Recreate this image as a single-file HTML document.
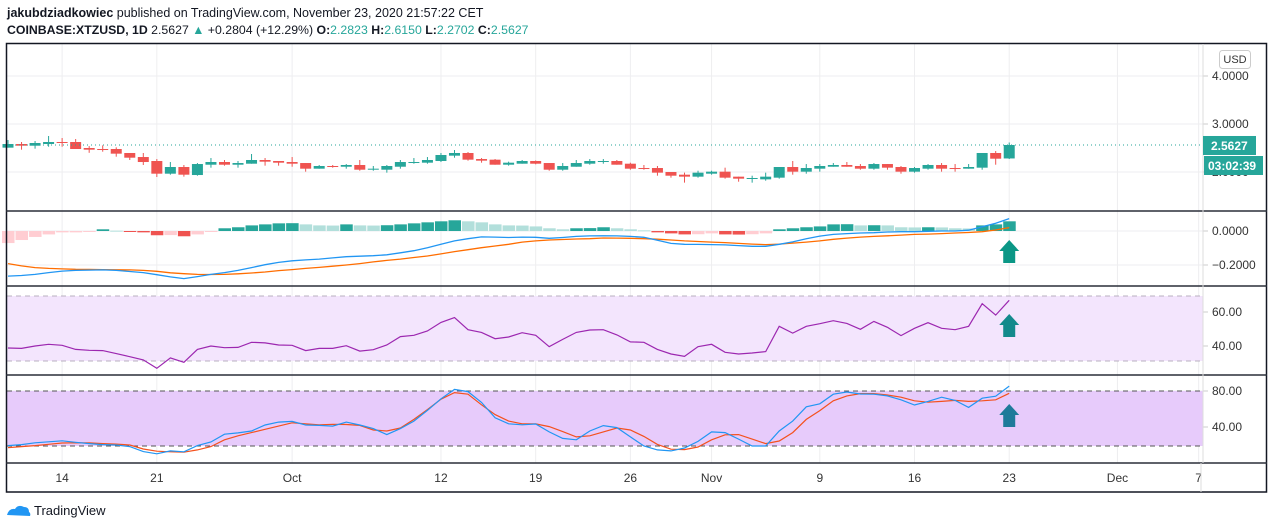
<!DOCTYPE html>
<html><head><meta charset="utf-8">
<style>
body{margin:0;background:#fff;width:1274px;height:529px;overflow:hidden;font-family:"Liberation Sans",sans-serif;}
svg{display:block}
text{font-family:"Liberation Sans",sans-serif;}
</style></head>
<body>
<svg id="c" width="1274" height="529" viewBox="0 0 1274 529">
  <text x="7" y="17" font-size="12.5" fill="#131722"><tspan font-weight="bold">jakubdziadkowiec</tspan> published on TradingView.com, November 23, 2020 21:57:22 CET</text>
  <text x="7" y="34" font-size="12.3" fill="#131722"><tspan font-weight="bold">COINBASE:XTZUSD, 1D</tspan> 2.5627 <tspan fill="#26a69a">▲</tspan> +0.2804 (+12.29%) <tspan font-weight="bold">O:</tspan><tspan fill="#26a69a">2.2823</tspan> <tspan font-weight="bold">H:</tspan><tspan fill="#26a69a">2.6150</tspan> <tspan font-weight="bold">L:</tspan><tspan fill="#26a69a">2.2702</tspan> <tspan font-weight="bold">C:</tspan><tspan fill="#26a69a">2.5627</tspan></text>
  <g id="grid"></g>
  <rect x="7" y="296" width="1196" height="65" fill="#f3e5fd"/>
  <rect x="7" y="391" width="1196" height="55" fill="#e7cbfb"/>
  <g id="marks"></g>
  <g id="frame"></g>
  <g>
    <path d="M7 515 q2-7 8-6 q3-5 9-2 q5 0 5 5 q2 1 1 4 z" fill="#2196f3"/>
    <text x="34" y="515" font-size="13" fill="#131722">TradingView</text>
  </g>
</svg>
<script>
const opens=[2.507,2.583,2.548,2.583,2.625,2.625,2.50,2.479,2.479,2.396,2.312,2.229,1.965,2.104,1.937,2.152,2.208,2.152,2.173,2.25,2.229,2.208,2.187,2.069,2.125,2.11,2.146,2.048,2.048,2.11,2.194,2.194,2.229,2.34,2.396,2.27,2.257,2.152,2.173,2.229,2.187,2.048,2.11,2.173,2.215,2.229,2.173,2.083,2.083,2.0,1.944,1.903,1.965,2.007,1.903,1.861,1.847,1.882,2.104,2.007,2.069,2.11,2.146,2.125,2.069,2.166,2.104,2.007,2.069,2.146,2.083,2.069,2.09,2.396,2.2823];
const highs=[2.666,2.625,2.645,2.75,2.708,2.687,2.54,2.555,2.514,2.396,2.396,2.27,2.208,2.146,2.187,2.291,2.25,2.229,2.375,2.291,2.229,2.312,2.187,2.146,2.146,2.166,2.25,2.125,2.146,2.25,2.291,2.312,2.396,2.458,2.416,2.291,2.27,2.215,2.25,2.24,2.187,2.187,2.25,2.27,2.27,2.25,2.194,2.146,2.125,2.0,1.986,2.027,2.027,2.09,1.903,1.923,1.986,2.104,2.229,2.166,2.166,2.187,2.208,2.166,2.187,2.166,2.125,2.104,2.166,2.187,2.166,2.166,2.396,2.437,2.615];
const lows=[2.507,2.465,2.486,2.527,2.527,2.479,2.40,2.423,2.319,2.25,2.146,1.896,1.944,1.903,1.923,2.09,2.132,2.09,2.173,2.132,2.132,2.11,2.007,2.069,2.09,2.069,2.027,2.027,1.986,2.069,2.173,2.173,2.208,2.298,2.236,2.194,2.152,2.132,2.173,2.16,2.027,2.027,2.11,2.152,2.173,2.152,2.048,2.048,1.923,1.882,1.778,1.882,1.944,1.861,1.798,1.778,1.819,1.861,1.944,1.965,2.007,2.11,2.11,2.048,2.048,2.048,1.965,1.986,2.048,2.007,2.007,2.069,2.048,2.152,2.2702];
const closes=[2.583,2.548,2.604,2.625,2.611,2.479,2.465,2.458,2.382,2.298,2.208,1.965,2.104,1.944,2.166,2.208,2.152,2.187,2.25,2.215,2.194,2.173,2.069,2.125,2.104,2.146,2.048,2.069,2.125,2.208,2.208,2.25,2.354,2.396,2.257,2.236,2.152,2.194,2.229,2.173,2.048,2.125,2.187,2.229,2.229,2.152,2.069,2.069,1.986,1.923,1.903,1.986,2.007,1.882,1.861,1.875,1.903,2.104,2.007,2.083,2.125,2.146,2.11,2.069,2.166,2.09,2.007,2.083,2.146,2.069,2.069,2.104,2.396,2.277,2.5627];
const macdHist=[-0.071,-0.053,-0.035,-0.020,-0.008,-0.008,-0.002,0.010,0.002,-0.002,-0.008,-0.025,-0.024,-0.031,-0.020,-0.002,0.016,0.022,0.033,0.039,0.045,0.046,0.039,0.033,0.032,0.039,0.033,0.032,0.034,0.039,0.045,0.051,0.057,0.063,0.057,0.051,0.039,0.033,0.032,0.027,0.016,0.010,0.016,0.017,0.022,0.016,0.010,0.004,-0.008,-0.014,-0.020,-0.019,-0.014,-0.020,-0.021,-0.019,-0.014,0.010,0.016,0.022,0.027,0.039,0.040,0.033,0.034,0.033,0.022,0.021,0.022,0.021,0.016,0.015,0.033,0.039,0.057];
const macdLine=[-0.265,-0.262,-0.255,-0.245,-0.236,-0.232,-0.230,-0.229,-0.232,-0.238,-0.245,-0.257,-0.270,-0.280,-0.268,-0.255,-0.245,-0.232,-0.215,-0.198,-0.185,-0.175,-0.170,-0.165,-0.158,-0.151,-0.148,-0.145,-0.140,-0.128,-0.116,-0.098,-0.078,-0.058,-0.045,-0.035,-0.036,-0.038,-0.036,-0.037,-0.043,-0.038,-0.032,-0.029,-0.028,-0.029,-0.032,-0.037,-0.055,-0.073,-0.078,-0.079,-0.080,-0.082,-0.086,-0.090,-0.090,-0.078,-0.064,-0.045,-0.030,-0.020,-0.015,-0.012,-0.010,-0.006,-0.004,-0.004,-0.002,0.0,0.0,0.005,0.025,0.045,0.073];
const macdSignal=[-0.192,-0.205,-0.215,-0.220,-0.223,-0.225,-0.226,-0.227,-0.228,-0.229,-0.232,-0.237,-0.246,-0.251,-0.255,-0.256,-0.255,-0.252,-0.247,-0.241,-0.233,-0.227,-0.220,-0.214,-0.207,-0.200,-0.192,-0.182,-0.173,-0.165,-0.156,-0.147,-0.135,-0.121,-0.110,-0.098,-0.088,-0.078,-0.065,-0.058,-0.053,-0.050,-0.047,-0.045,-0.041,-0.042,-0.043,-0.045,-0.048,-0.053,-0.058,-0.062,-0.065,-0.068,-0.073,-0.077,-0.080,-0.077,-0.071,-0.065,-0.058,-0.049,-0.042,-0.036,-0.032,-0.028,-0.024,-0.020,-0.018,-0.015,-0.012,-0.009,-0.004,0.006,0.020];
const rsi=[38.8,38.6,40,41,40.4,38,37.5,37.3,35.5,33.7,31.8,26.9,33,30.4,38,40,39,39.2,42.2,41.8,40.6,40.4,37.3,38.6,38.6,40.2,37,37.8,40.6,45.5,46.3,48.8,53.9,56.7,49.6,48,44.3,45.3,47.8,46.3,39.6,43.9,48,49.4,49.6,46.5,42.4,42.2,38,35.3,33.9,39.6,41,36.3,35.3,35.9,36.7,51.6,47.6,51.6,53.1,54.9,53.3,49.8,54.5,51,46.1,50.4,53.7,50.4,49.6,51.6,64.9,58.2,66.9];
const stochK=[19.3,20.4,22.5,23.6,24.7,23,21.5,20.4,20,18.2,12.7,10.2,13.5,12.4,19.3,23.3,32,33.5,35.6,42.2,45.5,46.2,42.2,41.8,41,45.5,42.2,38.2,31.6,38.2,46.5,58.5,71.3,81.8,79.3,67.3,50.2,43.6,42.5,43.3,34.5,27.3,25.8,35.6,41.5,39.3,29,18.9,14.5,13.5,16.7,24,34.5,33.8,26.5,18.9,18.9,35.6,46.5,62.5,65.8,76.4,78.9,76.7,76.4,74.5,70.2,64.4,68.4,73.1,69.5,61.8,72,74.2,85.5];
const stochD=[17.1,18.2,19.3,20.8,22.2,22.5,22.3,21.6,21,20,15.6,13.1,12.5,12,14.5,18.2,25.8,30.2,33.8,37.5,41,44.7,43.6,42.5,43,42.8,41.8,36.7,35.6,38.9,48.4,59.3,70.9,78.2,76.4,64.7,53.8,46.5,43.6,43.5,40.4,34.9,29,30.2,34.5,38.9,36.7,29.5,20.7,15.3,14.9,17.8,25.8,31.3,31.6,26.5,21.5,24.4,33.8,48.4,58.2,69.1,74.5,77.1,77.1,75.6,73.1,69.1,67.6,68.4,69.5,68.4,69.1,70.2,77.5];
const dateLabels=["14","21","Oct","12","19","26","Nov","9","16","23","Dec","7"];
const dateIndex=[4,11,21,32,39,46,52,60,67,74,82,88];
const priceTicks=[4,3,2];
const macdTicks=[0,-0.2];
const rsiTicks=[60,40];
const stochTicks=[80,40];

const NS="http://www.w3.org/2000/svg";
const X=i=>8+i*13.53;
const yP=p=>124-(p-3)*48;
const yM=v=>231-v*170;
const yR=v=>312-(v-60)*1.7;
const yS=v=>391-(v-80)*0.9;
function mk(tag,attrs,parent){const e=document.createElementNS(NS,tag);for(const k in attrs)e.setAttribute(k,attrs[k]);parent.appendChild(e);return e;}
const grid=document.getElementById('grid'),marks=document.getElementById('marks'),frame=document.getElementById('frame');

dateIndex.forEach((di,k)=>{
  const l=mk('line',{x1:X(di),x2:X(di),y1:44,y2:463,stroke:'#eeeef0','stroke-width':1},grid);
  
  
  const t=mk('text',{x:X(di),y:482,'font-size':12,fill:'#333','text-anchor':'middle'},frame);
  t.textContent=dateLabels[k];
  
  
});
function hgrid(y){const l=mk('line',{x1:7,x2:1203,y1:y,y2:y,stroke:'#eeeef0'},grid);}
function ylab(y,txt){const t=mk('text',{x:1212,y:y+4,'font-size':12,fill:'#333'},frame);t.textContent=txt;
 mk('line',{x1:1203,x2:1208,y1:y,y2:y,stroke:'#ccc'},frame);}
priceTicks.forEach(v=>{hgrid(yP(v));ylab(yP(v),v.toFixed(4));});
macdTicks.forEach(v=>{hgrid(yM(v));ylab(yM(v),(v<0?'−':'')+Math.abs(v).toFixed(4));});
rsiTicks.forEach(v=>{hgrid(yR(v));ylab(yR(v),v.toFixed(2));});
stochTicks.forEach(v=>{hgrid(yS(v));ylab(yS(v),v.toFixed(2));});

opens.forEach((o,i)=>{
  const c=closes[i],up=c>=o,col=up?'#26a69a':'#ef5350',x=X(i);
  const g=mk('g',{},marks);
  
  
  mk('line',{x1:x,x2:x,y1:yP(highs[i]),y2:yP(lows[i]),stroke:col,'stroke-width':1},g);
  const t=Math.min(yP(o),yP(c));
  mk('rect',{x:x-5.5,y:t,width:11,height:Math.max(1,Math.abs(yP(o)-yP(c))),fill:col},g);
});
const last=closes[closes.length-1];
const dl=mk('line',{x1:7,x2:1203,y1:yP(last),y2:yP(last),stroke:'#26a69a','stroke-dasharray':'1,3'},marks);



macdHist.forEach((v,i)=>{
  const prev=i>0?macdHist[i-1]:v;
  const col=v>=0?(v>=prev?'#26a69a':'#b2dfdb'):(v<prev?'#ef5350':'#ffcdd2');
  const r=mk('rect',{x:X(i)-6,y:Math.min(yM(0),yM(v)),width:12.5,height:Math.max(1,Math.abs(yM(v)-yM(0))),fill:col},marks);
  
  
});
function line(arr,fy,col,name,w){
  const p=mk('polyline',{points:arr.map((v,i)=>X(i).toFixed(1)+','+fy(v).toFixed(1)).join(' '),fill:'none',stroke:col,'stroke-width':w||1.3},marks);
  
  
}
line(macdSignal,yM,'#ff6d00','macd-signal-line');
line(macdLine,yM,'#2196f3','macd-line');
[296,361].forEach(y=>{const l=mk('line',{x1:7,x2:1203,y1:y,y2:y,stroke:'#b8b0c0','stroke-dasharray':'5,4'},marks);});
line(rsi,yR,'#9c27b0','rsi-line',1.2);
[391,446].forEach(y=>{const l=mk('line',{x1:7,x2:1203,y1:y,y2:y,stroke:'#555','stroke-dasharray':'5,4'},marks);});
line(stochD,yS,'#f4511e','stoch-d-line',1.2);
line(stochK,yS,'#2196f3','stoch-k-line',1.2);

[[240,'#0b9786','macd-arrow'],[314,'#138a8c','rsi-arrow'],[404,'#1f7a9a','stoch-arrow']].forEach(a=>{
  const x=X(74),y=a[0];
  const p=mk('path',{d:`M${x} ${y} L${x+10} ${y+11} L${x+6} ${y+11} L${x+6} ${y+23} L${x-6} ${y+23} L${x-6} ${y+11} L${x-10} ${y+11} Z`,fill:a[1]},marks);
  
  
});

mk('rect',{x:6.5,y:43.5,width:1260,height:448.5,fill:'none',stroke:'#131722','stroke-width':1.5},frame);
[211,286,375,463].forEach(y=>mk('line',{x1:6,x2:1267,y1:y,y2:y,stroke:'#2a2e39','stroke-width':1.5},frame));
mk('line',{x1:1203,x2:1203,y1:44,y2:463,stroke:'#dcdcdc'},frame);
mk('line',{x1:1201,x2:1201,y1:463,y2:492,stroke:'#dcdcdc'},frame);
const ub=mk('g',{},frame);
mk('rect',{x:1219.5,y:50.5,width:31,height:18,rx:3,fill:'#fff',stroke:'#ccc'},ub);
const ut=mk('text',{x:1235,y:63,'font-size':11,fill:'#333','text-anchor':'middle'},ub);ut.textContent='USD';
const pl=mk('g',{},frame);
mk('rect',{x:1203,y:yP(last)-9,width:53,height:19,fill:'#26a69a'},pl);
const pt=mk('text',{x:1211,y:yP(last)+5,'font-size':12,'font-weight':'bold',fill:'#fff'},pl);pt.textContent=last.toFixed(4);
const cd=mk('g',{},frame);
mk('rect',{x:1204,y:156,width:59,height:19,fill:'#26a69a'},cd);
const ct=mk('text',{x:1208,y:170,'font-size':12,'font-weight':'bold',fill:'#fff'},cd);ct.textContent='03:02:39';
</script>
</body></html>
